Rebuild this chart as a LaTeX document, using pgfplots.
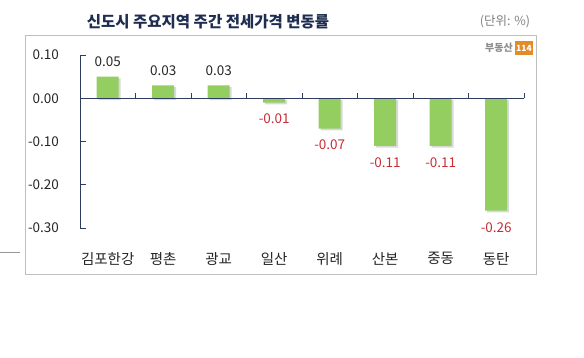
\documentclass[border=0pt]{standalone}
\usepackage{fontspec}
\setmainfont{Noto Sans CJK KR}
\usepackage{pgfplots}
\pgfplotsset{compat=1.18}
\definecolor{barg}{RGB}{148,206,96}
\definecolor{axisc}{RGB}{45,60,95}
\definecolor{titlec}{RGB}{30,45,80}
\definecolor{negred}{RGB}{200,45,55}
\definecolor{boxc}{RGB}{190,190,190}
\definecolor{logoor}{RGB}{225,140,40}
\begin{document}
\begin{tikzpicture}
\useasboundingbox (0,0) rectangle (584pt,358pt);
\fill[white] (0,0) rectangle (584pt,358pt);
\draw[boxc, line width=1pt] (25pt,83pt) rectangle (536pt,322pt);
\draw[gray!80, line width=0.6pt] (0pt,106pt) -- (20pt,106pt);
\node[text=titlec, font=\fontsize{15.5pt}{18pt}\selectfont\bfseries] at (208pt,336pt) {신도시 주요지역 주간 전세가격 변동률};
\node[text=gray, font=\fontsize{12.5pt}{14pt}\selectfont] at (505pt,336pt) {(단위: \%)};
\node[text=black!45, font=\fontsize{10pt}{12pt}\selectfont\bfseries, anchor=east, inner sep=1pt] at (514pt,310pt) {부동산};
\node[fill=logoor, text=white, font=\fontsize{8.5pt}{10pt}\selectfont\bfseries, inner sep=1pt, minimum height=14pt, minimum width=13pt, anchor=west] at (515pt,310pt) {114};
\begin{axis}[
 at={(80pt,130pt)}, anchor=south west, scale only axis, width=444pt, height=173pt,
 xmin=-0.5, xmax=7.5, ymin=-0.3, ymax=0.1,
 axis y line=left, axis x line*=bottom,
 x axis line style={draw=none},
 y axis line style={-, draw=axisc, line width=0.8pt},
 ytick={-0.3,-0.2,-0.1,0,0.1}, yticklabels={-0.30,-0.20,-0.10,0.00,0.10},
 tick align=inside, major tick length=6pt,
 ytick style={draw=axisc, line width=0.8pt},
 xtick={0,...,7}, xticklabels={김포한강,평촌,광교,일산,위례,산본,중동,동탄},
 x tick style={draw=none},
 yticklabel style={font=\fontsize{13.5pt}{15pt}\selectfont, text=black!85, xshift=-17.5pt},
 xticklabel style={font=\fontsize{14.5pt}{17pt}\selectfont, text=black!85, yshift=-15pt},
 ybar, bar width=22pt, bar shift=0pt,
 point meta=explicit symbolic,
 nodes near coords,
 clip=false,
]
\addplot[fill=barg, draw=none, preaction={fill=black!15, transform canvas={xshift=1.8pt, yshift=-1.8pt}},
  nodes near coords style={anchor=south, yshift=6pt, text=black!85, font=\fontsize{13.5pt}{15pt}\selectfont}]
  coordinates {(0,0.05)[0.05] (1,0.03)[0.03] (2,0.03)[0.03]};
\addplot[fill=barg, draw=none, preaction={fill=black!15, transform canvas={xshift=1.8pt, yshift=-1.8pt}},
  nodes near coords style={anchor=north, yshift=-8pt, text=negred, font=\fontsize{13.5pt}{15pt}\selectfont}]
  coordinates {(3,-0.01)[-0.01] (4,-0.07)[-0.07] (5,-0.11)[-0.11] (6,-0.11)[-0.11] (7,-0.26)[-0.26]};
\end{axis}
\begin{axis}[
 at={(80pt,259.75pt)}, anchor=south west, scale only axis, width=444pt, height=20pt,
 xmin=-0.5, xmax=7.5, ymin=0, ymax=1,
 axis x line=bottom, axis y line=none,
 x axis line style={-, draw=axisc, line width=0.8pt},
 xtick={0.5,1.5,2.5,3.5,4.5,5.5,6.5,7.5}, xticklabels={},
 x tick style={draw=axisc, line width=0.8pt},
 tick align=inside, major tick length=5pt, ytick=\empty,
]
\end{axis}
\end{tikzpicture}
\end{document}
